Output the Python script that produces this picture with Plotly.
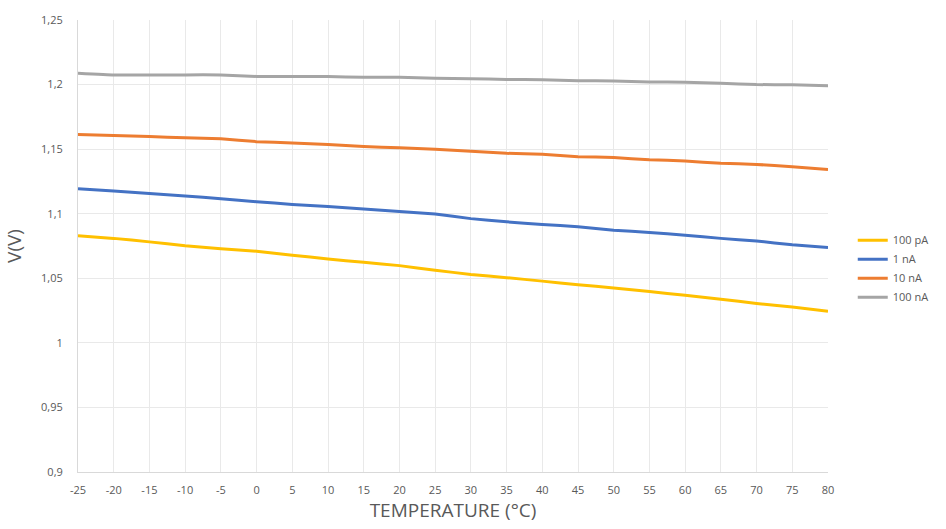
import plotly.graph_objects as go

# Temperature sweep (°C)
temperature = [-25, -20, -15, -10, -5, 0, 5, 10, 15, 20, 25,
               30, 35, 40, 45, 50, 55, 60, 65, 70, 75, 80]
x_ticktext = ["-25", "-20", "-15", "-10", "-5", "0", "5", "10", "15", "20", "25",
              "30", "35", "40", "45", "50", "55", "60", "65", "70", "75", "80"]

# Output voltage (V) for each bias current
v_100pA = [1.0829, 1.0809, 1.0782, 1.0752, 1.0729, 1.0709, 1.0679, 1.0649, 1.0624, 1.0598, 1.0562,
           1.0530, 1.0505, 1.0478, 1.0450, 1.0425, 1.0398, 1.0368, 1.0338, 1.0305, 1.0278, 1.0245]
v_1nA = [1.1193, 1.1176, 1.1156, 1.1138, 1.1115, 1.1093, 1.1072, 1.1055, 1.1037, 1.1017, 1.0997,
         1.0962, 1.0937, 1.0917, 1.0899, 1.0872, 1.0855, 1.0834, 1.0809, 1.0789, 1.0759, 1.0739]
v_10nA = [1.1613, 1.1606, 1.1598, 1.1588, 1.1580, 1.1558, 1.1548, 1.1535, 1.1520, 1.1510, 1.1500,
          1.1483, 1.1468, 1.1460, 1.1442, 1.1435, 1.1418, 1.1408, 1.1390, 1.1382, 1.1363, 1.1342]
v_100nA = [1.2088, 1.2075, 1.2075, 1.2075, 1.2075, 1.2063, 1.2063, 1.2063, 1.2056, 1.2056, 1.2048,
           1.2045, 1.2040, 1.2038, 1.2030, 1.2028, 1.2020, 1.2018, 1.2010, 1.2000, 1.1998, 1.1990]

series_names = ["100 pA", "1 nA", "10 nA", "100 nA"]
series_values = [v_100pA, v_1nA, v_10nA, v_100nA]
series_colors = ["#FFC000", "#4472C4", "#ED7D31", "#A5A5A5"]

y_tickvals = [0.9, 0.95, 1.0, 1.05, 1.1, 1.15, 1.2, 1.25]
y_ticktext = ["0,9", "0,95", "1", "1,05", "1,1", "1,15", "1,2", "1,25"]

FONT = "Open Sans"
TEXT_COLOR = "#595959"

fig = go.Figure()
for name, vals, color in zip(series_names, series_values, series_colors):
    fig.add_trace(go.Scatter(
        x=temperature, y=vals, name=name, mode="lines",
        line=dict(color=color, width=3, shape="spline", smoothing=0.3),
    ))

fig.update_layout(
    width=946, height=529,
    margin=dict(l=78, r=106, t=15, b=51),
    paper_bgcolor="white", plot_bgcolor="white",
    font=dict(family=FONT, color=TEXT_COLOR),
    showlegend=True,
    legend=dict(
        x=1.033, y=0.545, xanchor="left", yanchor="top",
        font=dict(size=11, color=TEXT_COLOR, family=FONT),
        tracegroupgap=0, itemwidth=30,
    ),
)

fig.update_xaxes(
    range=[-25, 80], tickmode="array", tickvals=temperature, ticktext=x_ticktext,
    tickfont=dict(size=11, color=TEXT_COLOR),
    showgrid=True, gridcolor="#E9E9E9", gridwidth=1,
    showline=True, linecolor="#D9D9D9", linewidth=1,
    zeroline=False, ticks="", ticklabelstandoff=8,
    title=dict(text="TEMPERATURE (°C)", font=dict(size=19, color=TEXT_COLOR), standoff=6),
)
fig.update_yaxes(
    range=[0.9, 1.25], tickmode="array", tickvals=y_tickvals, ticktext=y_ticktext,
    tickfont=dict(size=11, color=TEXT_COLOR),
    showgrid=True, gridcolor="#E9E9E9", gridwidth=1,
    showline=True, linecolor="#D9D9D9", linewidth=1,
    zeroline=False, ticks="", ticklabelstandoff=12,
    title=dict(text="V(V)", font=dict(size=19, color=TEXT_COLOR), standoff=14),
)

fig.write_html("out.html")
